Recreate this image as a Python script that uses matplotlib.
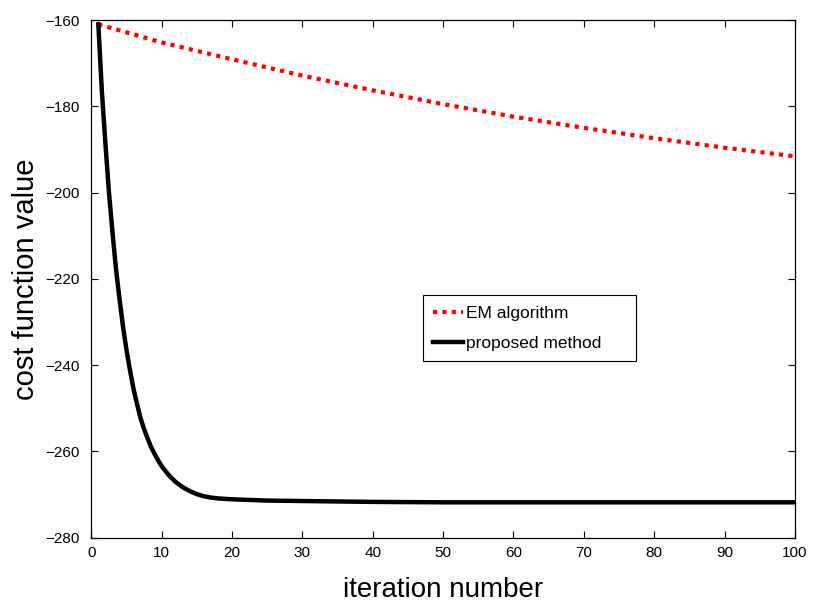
import matplotlib
matplotlib.use("Agg")
import matplotlib.pyplot as plt

# EM algorithm curve
em_iter = [1, 10, 20, 30, 40, 50, 60, 70, 80, 90, 100]
em_cost = [-161.0, -165.2, -169.1, -172.9, -176.3, -179.5, -182.4, -185.0, -187.4, -189.6, -191.6]

# proposed method curve (denser where it drops fast)
prop_iter = [1, 1.5, 2, 2.5, 3, 3.5, 4, 4.5, 5, 5.5, 6, 6.5, 7, 7.5, 8, 8.5, 9, 9.5, 10,
             11, 12, 13, 14, 15, 16, 17, 18, 19, 20,
             25, 30, 40, 50, 60, 70, 80, 90, 100]
prop_cost = [-161.0, -176.5, -188.5, -199.8, -209.0, -217.6, -224.5, -231.0, -236.5, -241.2,
             -245.5, -249.0, -252.3, -254.8, -257.0, -259.0, -260.6, -262.1, -263.4,
             -265.5, -267.1, -268.3, -269.2, -269.9, -270.4, -270.7, -270.9, -271.0, -271.1,
             -271.4, -271.5, -271.7, -271.8, -271.8, -271.8, -271.8, -271.8, -271.8]

x_ticks = list(range(0, 101, 10))
y_ticks = list(range(-280, -159, 20))

plt.rcParams["font.family"] = ["Liberation Sans", "DejaVu Sans"]

fig = plt.figure(figsize=(8.13, 6.03), dpi=100)
ax = fig.add_axes([0.1123, 0.1083, 0.8655, 0.8585])

ax.plot(em_iter, em_cost, color="red", linewidth=3, linestyle=(0, (1, 1.25)),
        dash_capstyle="butt", label="EM algorithm")
ax.plot(prop_iter, prop_cost, color="black", linewidth=3.2, label="proposed method")

ax.set_xlim(0, 100)
ax.set_ylim(-280, -160)
ax.set_xticks(x_ticks)
ax.set_yticks(y_ticks)
ax.tick_params(direction="in", length=5, width=0.8, labelsize=11, top=True, right=True)
ax.tick_params(axis="x", pad=6)
ax.tick_params(axis="y", pad=8.5)
for s in ax.spines.values():
    s.set_linewidth(0.9)

ax.set_xlabel("iteration number", fontsize=20)
ax.set_ylabel("cost function value", fontsize=21)
ax.xaxis.set_label_coords(0.5, -0.075)
ax.yaxis.set_label_coords(-0.073, 0.5)

leg = ax.legend(loc="lower left", bbox_to_anchor=(0.471, 0.341, 0.303, 0.131),
                mode="expand", borderaxespad=0, fontsize=12.5, handlelength=1.7,
                handletextpad=0.2, labelspacing=0.85, borderpad=0.6, fancybox=False,
                framealpha=1)
leg.get_frame().set_edgecolor("black")
leg.get_frame().set_linewidth(0.8)

fig.savefig("out.png", dpi=100)
